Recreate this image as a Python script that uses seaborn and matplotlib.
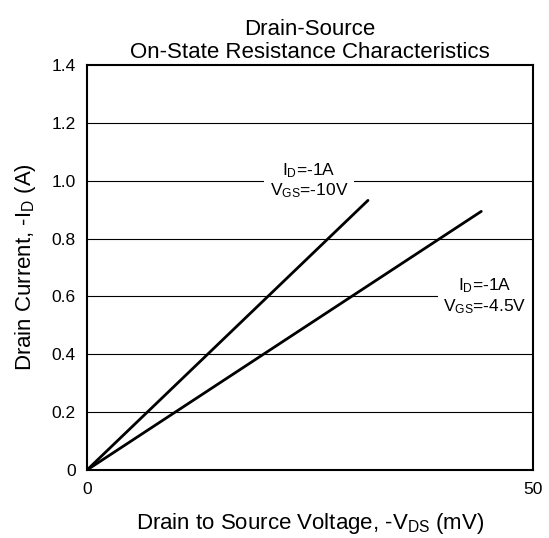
import matplotlib
matplotlib.use("Agg")
import matplotlib.pyplot as plt
import seaborn as sns
import pandas as pd

# Data
vds_10v = [0, 31.5]          # mV
id_10v = [0, 0.932]          # A
vds_45v = [0, 44.2]
id_45v = [0, 0.894]
x_ticks = [0, 50]
x_tick_labels = ["0", "50"]
y_ticks = [0, 0.2, 0.4, 0.6, 0.8, 1.0, 1.2, 1.4]
y_tick_labels = ["0", "0.2", "0.4", "0.6", "0.8", "1.0", "1.2", "1.4"]

df = pd.concat([
    pd.DataFrame({"vds": vds_10v, "id": id_10v, "curve": "VGS=-10V"}),
    pd.DataFrame({"vds": vds_45v, "id": id_45v, "curve": "VGS=-4.5V"}),
])

sns.set_theme(style="white")
plt.rcParams["font.family"] = ["Liberation Sans", "DejaVu Sans"]
plt.rcParams["mathtext.fontset"] = "custom"
plt.rcParams["mathtext.rm"] = "Liberation Sans"
plt.rcParams["mathtext.it"] = "Liberation Sans"

fig = plt.figure(figsize=(5.49, 5.38), dpi=100)
L, R, T, B = 87, 533, 65, 470
ax = fig.add_axes([L/549, 1-B/538, (R-L)/549, (B-T)/538])

for yv in y_ticks[1:-1]:
    ax.axhline(yv, color="black", lw=0.8, zorder=1)

sns.lineplot(data=df, x="vds", y="id", hue="curve", palette=["black", "black"],
             lw=2.0, legend=False, ax=ax, zorder=3)

ax.set_xlim(0, 50)
ax.set_ylim(0, 1.4)
ax.set_xticks(x_ticks)
ax.set_xticklabels(x_tick_labels)
ax.set_yticks(y_ticks)
ax.set_yticklabels(y_tick_labels)
ax.tick_params(axis="both", length=0, labelsize=12.5, colors="black")
ax.tick_params(axis="x", pad=9)
ax.tick_params(axis="y", pad=8)
for s in ax.spines.values():
    s.set_color("black")
    s.set_linewidth(1.5)
    s.set_zorder(5)

ax.set_xlabel(r"Drain to Source Voltage, -V$_{\rm DS}$ (mV)", fontsize=16, color="black", labelpad=10)
ax.set_ylabel(r"Drain Current, -I$_{\rm D}$ (A)", fontsize=16, color="black", labelpad=10)
ax.set_title("Drain-Source\nOn-State Resistance Characteristics", fontsize=16,
             color="black", pad=5, linespacing=1.15)

box = dict(facecolor="white", edgecolor="none", pad=4)
ax.text(24.9, 1.0, "I$_{\\rm D}$=-1A\nV$_{\\rm GS}$=-10V", ha="center", va="center",
        fontsize=12.5, color="black", bbox=box, zorder=4, linespacing=1.15)
ax.text(44.6, 0.6, "I$_{\\rm D}$=-1A\nV$_{\\rm GS}$=-4.5V", ha="center", va="center",
        fontsize=12.5, color="black", bbox=box, zorder=4, linespacing=1.15)

fig.savefig("out.png", dpi=100)
